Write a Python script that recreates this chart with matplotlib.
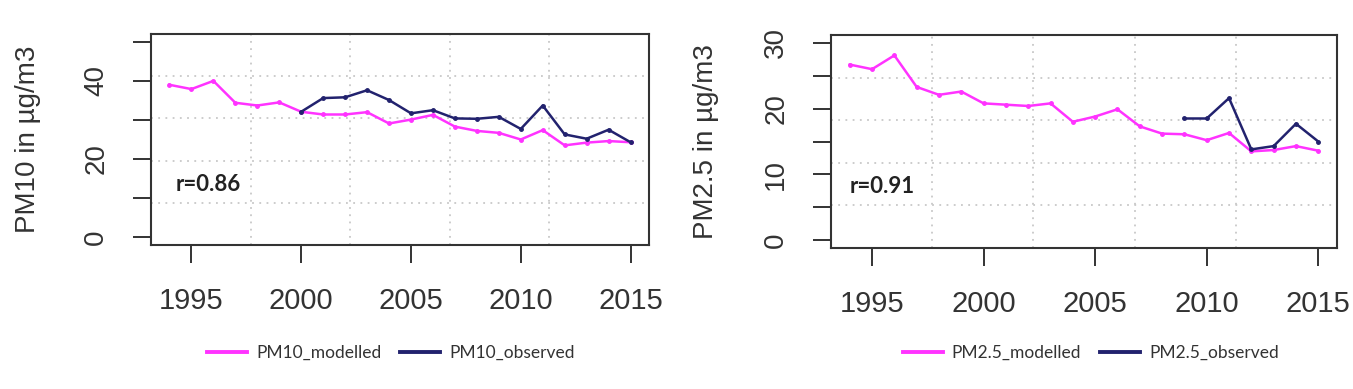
import numpy as np
import matplotlib.pyplot as plt

# Data
years = np.arange(1994, 2016)

pm10_modelled = [39.0, 37.9, 40.0, 34.4, 33.7, 34.5, 32.1, 31.4, 31.4, 32.0, 29.1,
                 30.1, 31.3, 28.3, 27.2, 26.7, 25.0, 27.4, 23.5, 24.2, 24.6, 24.3]
pm10_obs_years = np.arange(2000, 2016)
pm10_observed = [32.1, 35.6, 35.8, 37.6, 35.1, 31.7, 32.5, 30.4, 30.3, 30.8, 27.7,
                 33.7, 26.3, 25.2, 27.5, 24.3]

pm25_modelled = [26.7, 26.0, 28.1, 23.3, 22.1, 22.6, 20.8, 20.6, 20.4, 20.8, 18.0,
                 18.8, 19.9, 17.3, 16.2, 16.1, 15.2, 16.3, 13.5, 13.7, 14.3, 13.6]
pm25_obs_years = np.arange(2009, 2016)
pm25_observed = [18.5, 18.5, 21.6, 13.8, 14.3, 17.7, 15.0]

x_ticks = [1995, 2000, 2005, 2010, 2015]
pink = '#ff33ff'
navy = '#22226e'
tick_font = 'Liberation Sans'

fig = plt.figure(figsize=(13.53, 3.89), dpi=100)
ax1 = fig.add_axes([151/1353, 1 - 245/389, 498/1353, 211/389])
ax2 = fig.add_axes([831/1353, 1 - 248/389, 506/1353, 213/389])


def style_panel(ax, ymax, ystep, ylabel_step, ylabel, r_text, r_pos):
    # R-style 4% padding of the axis range
    xpad = (years[-1] - years[0]) * 0.04
    ypad = ymax * 0.04
    ax.set_xlim(years[0] - xpad, years[-1] + xpad)
    ax.set_ylim(-ypad, ymax + ypad)

    # grid(nx=5, ny=5): splits the plot region into 5 cells
    x0, x1 = ax.get_xlim()
    y0, y1 = ax.get_ylim()
    for gx in np.linspace(x0, x1, 6)[1:-1]:
        ax.axvline(gx, color='#c8c8c8', linestyle=(0, (1, 3)), linewidth=1.3, zorder=0)
    for gy in np.linspace(y0, y1, 6)[1:-1]:
        ax.axhline(gy, color='#c8c8c8', linestyle=(0, (1, 3)), linewidth=1.3, zorder=0)

    yt = np.arange(0, ymax + 0.1, ystep)
    ax.set_yticks(yt)
    ax.set_yticklabels([f'{v:g}' if v % ylabel_step == 0 else '' for v in yt],
                       rotation=90, va='center', family=tick_font, fontsize=20, color='#333333')
    ax.set_xticks(x_ticks)
    ax.set_xticklabels([str(v) for v in x_ticks], family=tick_font, fontsize=21, color='#333333')
    ax.tick_params(axis='both', length=13, width=1.4, color='#333333', pad=17)

    for sp in ax.spines.values():
        sp.set_linewidth(1.5)
        sp.set_color('#333333')

    ax.set_ylabel(ylabel, family=tick_font, fontsize=20, color='#333333', va='center')
    ax.yaxis.set_label_coords(-0.247, 0.5)
    ax.text(r_pos[0], r_pos[1], r_text, family='Lato', fontweight='bold', fontsize=16,
            color='#222222', va='center', ha='left')


# Left panel: PM10
m1, = ax1.plot(years, pm10_modelled, color=pink, linewidth=1.8, marker='o', markersize=2.5, zorder=3)
o1, = ax1.plot(pm10_obs_years, pm10_observed, color=navy, linewidth=1.8, marker='o', markersize=2.5, zorder=3)
style_panel(ax1, 50, 10, 20, 'PM10 in µg/m3', 'r=0.86', (1994.3, 13.6))

# Right panel: PM2.5
m2, = ax2.plot(years, pm25_modelled, color=pink, linewidth=1.8, marker='o', markersize=2.5, zorder=3)
o2, = ax2.plot(pm25_obs_years, pm25_observed, color=navy, linewidth=1.8, marker='o', markersize=2.5, zorder=3)
style_panel(ax2, 30, 5, 10, 'PM2.5 in µg/m3', 'r=0.91', (1994.0, 8.2))

# Legends below each panel (lines only, no markers)
legends = [((m1, o1), ('PM10_modelled', 'PM10_observed'), 391),
           ((m2, o2), ('PM2.5_modelled', 'PM2.5_observed'), 1091)]
for lines, labels, cx in legends:
    handles = [plt.Line2D([], [], color=l.get_color(), linewidth=2.8) for l in lines]
    leg = fig.legend(handles, labels, loc='center', bbox_to_anchor=(cx/1353, 1 - 353/389),
                     ncol=2, frameon=False, handlelength=2.3, handletextpad=0.5,
                     columnspacing=1.1, prop={'family': 'Lato', 'size': 12.5})
    for t in leg.get_texts():
        t.set_color('#333333')

plt.savefig('out.png', dpi=100)
